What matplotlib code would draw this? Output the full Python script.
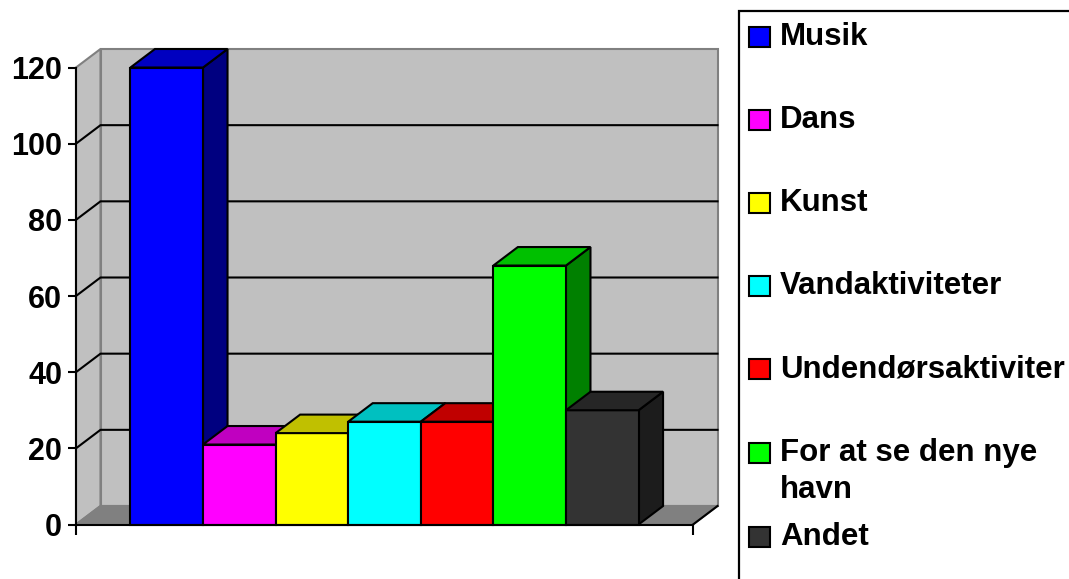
import numpy as np
import matplotlib
matplotlib.use("Agg")
from matplotlib import pyplot as plt
from matplotlib.patches import Polygon, Rectangle

plt.rcParams['font.family'] = ['Liberation Sans', 'DejaVu Sans']
plt.rcParams['font.weight'] = 'bold'

# data
labels = ["Musik", "Dans", "Kunst", "Vandaktiviteter", "Undendørsaktiviter",
          "For at se den nye\nhavn", "Andet"]
values = [120, 21, 24, 27, 27, 68, 30]
front_colors = ["#0000FF", "#FF00FF", "#FFFF00", "#00FFFF", "#FF0000", "#00FF00", "#333333"]
top_colors = ["#0000C0", "#C000C0", "#C0C000", "#00C0C0", "#C00000", "#00C000", "#262626"]
side_colors = ["#000080", "#800080", "#808000", "#008080", "#800000", "#008000", "#1C1C1C"]
yticks = [0, 20, 40, 60, 80, 100, 120]

W, H = 1069, 579
fig = plt.figure(figsize=(W / 100, H / 100), dpi=100)

# front plane of the plot in pixels
px0, px1, py0, py1 = 76, 693, 524.5, 67.5
ax = fig.add_axes([px0 / W, (H - py0) / H, (px1 - px0) / W, (py0 - py1) / H])
n = len(values)
x0, x1 = -1.25, n - 1 + 0.5 + 0.75
ymax = 120
ax.set_xlim(x0, x1)
ax.set_ylim(0, ymax)

# depth offset (24 px right, 18.5 px up) in data units
ddx = 24.5 / (px1 - px0) * (x1 - x0)
ddy = 18.5 / (py0 - py1) * ymax

wall = "#C0C0C0"
edge = "#808080"
lw = 1.5

# walls and floor
ax.add_patch(Polygon([(x0, 0), (x0, ymax), (x0 + ddx, ymax + ddy), (x0 + ddx, ddy)],
                     closed=True, fc=wall, ec=edge, lw=lw, clip_on=False, zorder=1))
ax.add_patch(Polygon([(x0 + ddx, ddy), (x0 + ddx, ymax + ddy), (x1 + ddx, ymax + ddy), (x1 + ddx, ddy)],
                     closed=True, fc=wall, ec=edge, lw=lw, clip_on=False, zorder=1))
ax.add_patch(Polygon([(x0, 0), (x1, 0), (x1 + ddx, ddy), (x0 + ddx, ddy)],
                     closed=True, fc="#808080", ec=edge, lw=lw, clip_on=False, zorder=1))
ax.plot([x1, x1 + ddx], [0, ddy], color="black", lw=lw, clip_on=False, zorder=2)

# gridlines on side and back wall
for t in yticks[1:-1]:
    ax.plot([x0, x0 + ddx, x1 + ddx], [t, t + ddy, t + ddy], color="black", lw=lw,
            clip_on=False, zorder=2)

# 3d bars, drawn left to right
for i, v in enumerate(values):
    l, r = i - 0.5, i + 0.5
    ax.add_patch(Polygon([(r, 0), (r, v), (r + ddx, v + ddy), (r + ddx, ddy)], closed=True,
                         fc=side_colors[i], ec="black", lw=lw, clip_on=False, zorder=3 + i))
    ax.add_patch(Polygon([(l, 0), (r, 0), (r, v), (l, v)], closed=True,
                         fc=front_colors[i], ec="black", lw=lw, clip_on=False, zorder=3 + i))
    ax.add_patch(Polygon([(l, v), (r, v), (r + ddx, v + ddy), (l + ddx, v + ddy)], closed=True,
                         fc=top_colors[i], ec="black", lw=lw, clip_on=False, zorder=3 + i))

ax.set_facecolor("none")
for s in ["top", "right"]:
    ax.spines[s].set_visible(False)
ax.spines["left"].set_linewidth(lw)
ax.spines["bottom"].set_linewidth(lw)
ax.spines["left"].set_zorder(20)
ax.spines["bottom"].set_zorder(20)
ax.set_yticks(yticks)
ax.set_yticklabels([str(t) for t in yticks], fontsize=22, fontweight="bold")
ax.set_xticks([x0, x1])
ax.set_xticklabels([])
ax.tick_params(axis="y", length=6, width=lw, pad=4)
ax.tick_params(axis="x", length=7, width=lw)

# legend box (clipped at the figure edges, like the original)
lx, ly = 739, 11
fig.add_artist(Rectangle((lx / W, -0.05), 1.2 - lx / W, (H - ly) / H + 0.05,
                         transform=fig.transFigure, fc="white", ec="black", lw=1.6))
ys = [37, 120, 203, 286, 369, 453, 537]
for lab, c, yc in zip(labels, front_colors, ys):
    fig.add_artist(Rectangle((749 / W, (H - yc - 10) / H), 21 / W, 20 / H,
                             transform=fig.transFigure, fc=c, ec="black", lw=1.5))
    for k, line in enumerate(lab.split("\n")):
        fig.text(780 / W, (H - yc - 37 * k) / H, line, fontsize=22.5, fontweight="bold",
                 va="center", ha="left")

fig.savefig("out.png", dpi=100)
